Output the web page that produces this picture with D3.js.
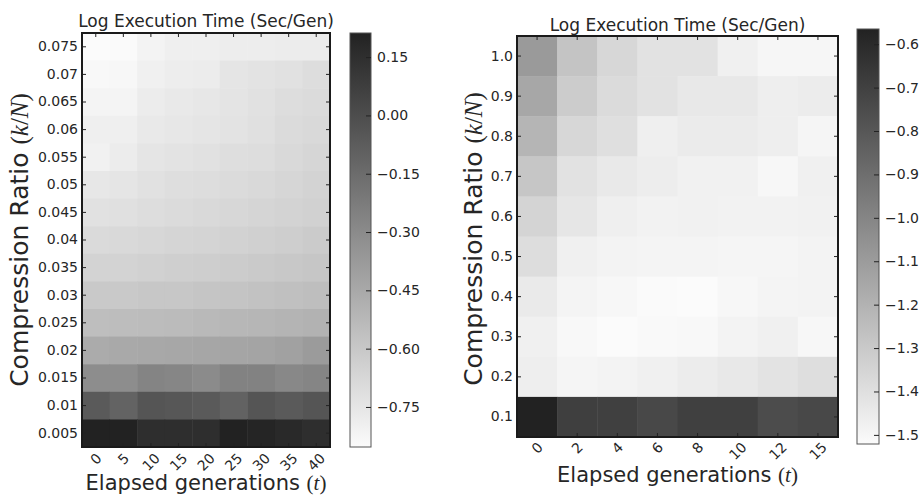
<!DOCTYPE html>
<html>
<head>
<meta charset="utf-8">
<script src="https://cdn.jsdelivr.net/npm/d3@7"></script>
<style>
  html, body { margin: 0; padding: 0; background: #fff; }
  text { font-family: 'DejaVu Sans', sans-serif; fill: #262626; }
</style>
</head>
<body>
<div id="chart"></div>
<script>
// Left panel: small compression ratios
const leftGens = [0, 5, 10, 15, 20, 25, 30, 35, 40];
const leftRatios = ['0.075', '0.07', '0.065', '0.06', '0.055', '0.05', '0.045', '0.04',
  '0.035', '0.03', '0.025', '0.02', '0.015', '0.01', '0.005'];
const leftTimes = [
  [-0.853, -0.850, -0.814, -0.794, -0.794, -0.784, -0.784, -0.779, -0.779],
  [-0.838, -0.833, -0.799, -0.784, -0.779, -0.745, -0.735, -0.725, -0.705],
  [-0.818, -0.818, -0.779, -0.764, -0.754, -0.740, -0.725, -0.705, -0.695],
  [-0.794, -0.794, -0.764, -0.754, -0.745, -0.735, -0.720, -0.695, -0.685],
  [-0.804, -0.779, -0.745, -0.735, -0.725, -0.710, -0.705, -0.685, -0.671],
  [-0.754, -0.745, -0.725, -0.710, -0.705, -0.695, -0.685, -0.671, -0.656],
  [-0.725, -0.720, -0.705, -0.695, -0.685, -0.675, -0.666, -0.656, -0.646],
  [-0.690, -0.685, -0.675, -0.666, -0.661, -0.651, -0.641, -0.631, -0.616],
  [-0.656, -0.656, -0.646, -0.636, -0.631, -0.621, -0.611, -0.602, -0.592],
  [-0.606, -0.606, -0.597, -0.597, -0.587, -0.582, -0.572, -0.562, -0.552],
  [-0.552, -0.547, -0.542, -0.537, -0.528, -0.518, -0.513, -0.503, -0.493],
  [-0.458, -0.449, -0.444, -0.439, -0.434, -0.429, -0.424, -0.409, -0.380],
  [-0.311, -0.311, -0.271, -0.281, -0.301, -0.261, -0.261, -0.291, -0.276],
  [-0.064, -0.108, -0.039, -0.049, -0.064, -0.103, -0.039, -0.064, -0.039],
  [0.212, 0.212, 0.153, 0.153, 0.153, 0.212, 0.197, 0.178, 0.153]
];
const leftBarTicks = [0.15, 0.00, -0.15, -0.30, -0.45, -0.60, -0.75];

// Right panel: large compression ratios
const rightGens = [0, 2, 4, 6, 8, 10, 12, 15];
const rightRatios = ['1.0', '0.9', '0.8', '0.7', '0.6', '0.5', '0.4', '0.3', '0.2', '0.1'];
const rightTimes = [
  [-1.092, -1.278, -1.362, -1.410, -1.410, -1.472, -1.499, -1.499],
  [-1.149, -1.313, -1.379, -1.410, -1.437, -1.437, -1.463, -1.455],
  [-1.211, -1.362, -1.397, -1.468, -1.450, -1.450, -1.463, -1.494],
  [-1.286, -1.410, -1.441, -1.459, -1.477, -1.477, -1.503, -1.472],
  [-1.348, -1.428, -1.468, -1.481, -1.477, -1.481, -1.481, -1.477],
  [-1.388, -1.472, -1.486, -1.490, -1.490, -1.494, -1.494, -1.486],
  [-1.446, -1.490, -1.503, -1.517, -1.521, -1.503, -1.490, -1.486],
  [-1.472, -1.508, -1.521, -1.512, -1.508, -1.486, -1.472, -1.503],
  [-1.463, -1.494, -1.486, -1.472, -1.455, -1.437, -1.415, -1.393],
  [-0.565, -0.693, -0.698, -0.733, -0.698, -0.698, -0.751, -0.733]
];
const rightBarTicks = [-0.6, -0.7, -0.8, -0.9, -1.0, -1.1, -1.2, -1.3, -1.4, -1.5];

const W = 921, H = 495;
const LIGHT = '#fbfbfb', DARK = '#222222';
const MATH = "'Liberation Serif', 'DejaVu Serif', serif";

const svg = d3.select('#chart').append('svg')
  .attr('width', W).attr('height', H);

const defs = svg.append('defs');

function panel(o) {
  const g = svg.append('g').attr('transform', `translate(${o.left},${o.top})`);
  const x = d3.scaleBand().domain(o.gens).range([0, o.width]);
  const y = d3.scaleBand().domain(o.ratios).range([0, o.height]);
  const ext = d3.extent(o.times.flat());
  const color = d3.scaleLinear().domain(ext).range([LIGHT, DARK]);

  const cells = o.times.flatMap((row, i) => row.map((v, j) => ({ r: o.ratios[i], t: o.gens[j], v })));

  g.selectAll('rect.cell')
    .data(cells)
    .join('rect')
    .attr('class', 'cell')
    .attr('x', d => x(d.t))
    .attr('y', d => y(d.r))
    .attr('width', x.bandwidth() + 0.5)
    .attr('height', y.bandwidth() + 0.5)
    .attr('fill', d => color(d.v));

  // ticks point inward on all four sides
  g.append('g')
    .call(d3.axisLeft(y).tickSizeInner(-4).tickSizeOuter(0).tickPadding(4));
  g.append('g').attr('transform', `translate(${o.width},0)`)
    .call(d3.axisRight(y).tickSizeInner(-4).tickSizeOuter(0).tickFormat(''));
  g.append('g')
    .call(d3.axisTop(x).tickSizeInner(-4).tickSizeOuter(0).tickFormat(''));
  const xAx = g.append('g').attr('transform', `translate(0,${o.height})`)
    .call(d3.axisBottom(x).tickSizeInner(-4).tickSizeOuter(0));

  g.selectAll('.domain').remove();
  g.selectAll('.tick line').attr('stroke', '#222').attr('stroke-width', 1);
  g.selectAll('.tick text')
    .style('font-family', "'DejaVu Sans', sans-serif")
    .style('font-size', '14px')
    .attr('fill', '#262626');

  // rotated generation labels, bbox centred under the tick
  xAx.selectAll('.tick text').each(function () {
    const w = this.getComputedTextLength();
    const h = (w + 0.73 * 14) * Math.SQRT1_2;
    d3.select(this)
      .attr('y', 0)
      .attr('dy', '0.36em')
      .attr('text-anchor', 'middle')
      .attr('transform', `translate(0,${o.labelGap + h / 2}) rotate(-45)`);
  });

  // frame
  g.append('rect')
    .attr('width', o.width).attr('height', o.height)
    .attr('fill', 'none').attr('stroke', '#1a1a1a').attr('stroke-width', 2);

  // title
  svg.append('text')
    .attr('x', o.left + o.width / 2).attr('y', o.titleY)
    .attr('text-anchor', 'middle')
    .style('font-size', '17px')
    .text('Log Execution Time (Sec/Gen)');

  // x label
  const xl = svg.append('text')
    .attr('x', o.left + o.width / 2).attr('y', o.xLabelY)
    .attr('text-anchor', 'middle')
    .style('font-size', '21px');
  xl.append('tspan').text('Elapsed generations ');
  xl.append('tspan').style('font-family', MATH).text('(');
  xl.append('tspan').style('font-family', MATH).style('font-style', 'italic').text('t');
  xl.append('tspan').style('font-family', MATH).text(')');

  // y label
  const yl = svg.append('text')
    .attr('transform', `translate(${o.yLabelX},${o.yLabelY}) rotate(-90)`)
    .attr('text-anchor', 'middle')
    .style('font-size', '25px');
  yl.append('tspan').text('Compression Ratio ');
  yl.append('tspan').style('font-family', MATH).text('(');
  yl.append('tspan').style('font-family', MATH).style('font-style', 'italic').text('k');
  yl.append('tspan').style('font-family', MATH).text('/');
  yl.append('tspan').style('font-family', MATH).style('font-style', 'italic').text('N');
  yl.append('tspan').style('font-family', MATH).text(')');

  // colorbar
  const cbH = o.cbBottom - o.cbTop;
  const grad = defs.append('linearGradient')
    .attr('id', o.id + '-grad')
    .attr('x1', 0).attr('y1', 1).attr('x2', 0).attr('y2', 0);
  grad.selectAll('stop')
    .data(d3.range(0, 1.001, 0.1))
    .join('stop')
    .attr('offset', d => d * 100 + '%')
    .attr('stop-color', d => color(ext[0] + d * (ext[1] - ext[0])));

  const cb = svg.append('g').attr('transform', `translate(${o.cbX},${o.cbTop})`);
  cb.append('rect')
    .attr('width', o.cbW).attr('height', cbH)
    .attr('fill', `url(#${o.id}-grad)`)
    .attr('stroke', '#555').attr('stroke-width', 1);

  const cbScale = d3.scaleLinear().domain(ext).range([cbH, 0]);
  const cbAx = cb.append('g').attr('transform', `translate(${o.cbW},0)`)
    .call(d3.axisRight(cbScale)
      .tickValues(o.barTicks)
      .tickFormat(d3.format(o.barFmt))
      .tickSizeInner(-5).tickSizeOuter(0).tickPadding(6));
  cbAx.select('.domain').remove();
  cbAx.selectAll('.tick line').attr('stroke', '#222');
  cbAx.selectAll('.tick text')
    .style('font-family', "'DejaVu Sans', sans-serif")
    .style('font-size', '14px')
    .attr('fill', '#262626');
}

panel({
  id: 'left', gens: leftGens, ratios: leftRatios, times: leftTimes,
  left: 82, top: 33, width: 248, height: 414,
  titleY: 27, xLabelY: 490, yLabelX: 28, yLabelY: 240, labelGap: 5,
  cbX: 350, cbW: 21, cbTop: 33, cbBottom: 447,
  barTicks: leftBarTicks, barFmt: '.2f'
});

panel({
  id: 'right', gens: rightGens, ratios: rightRatios, times: rightTimes,
  left: 517, top: 36, width: 321, height: 401,
  titleY: 31, xLabelY: 482, yLabelX: 482, yLabelY: 239, labelGap: 4,
  cbX: 857, cbW: 22, cbTop: 29, cbBottom: 444,
  barTicks: rightBarTicks, barFmt: '.1f'
});
</script>
</body>
</html>
